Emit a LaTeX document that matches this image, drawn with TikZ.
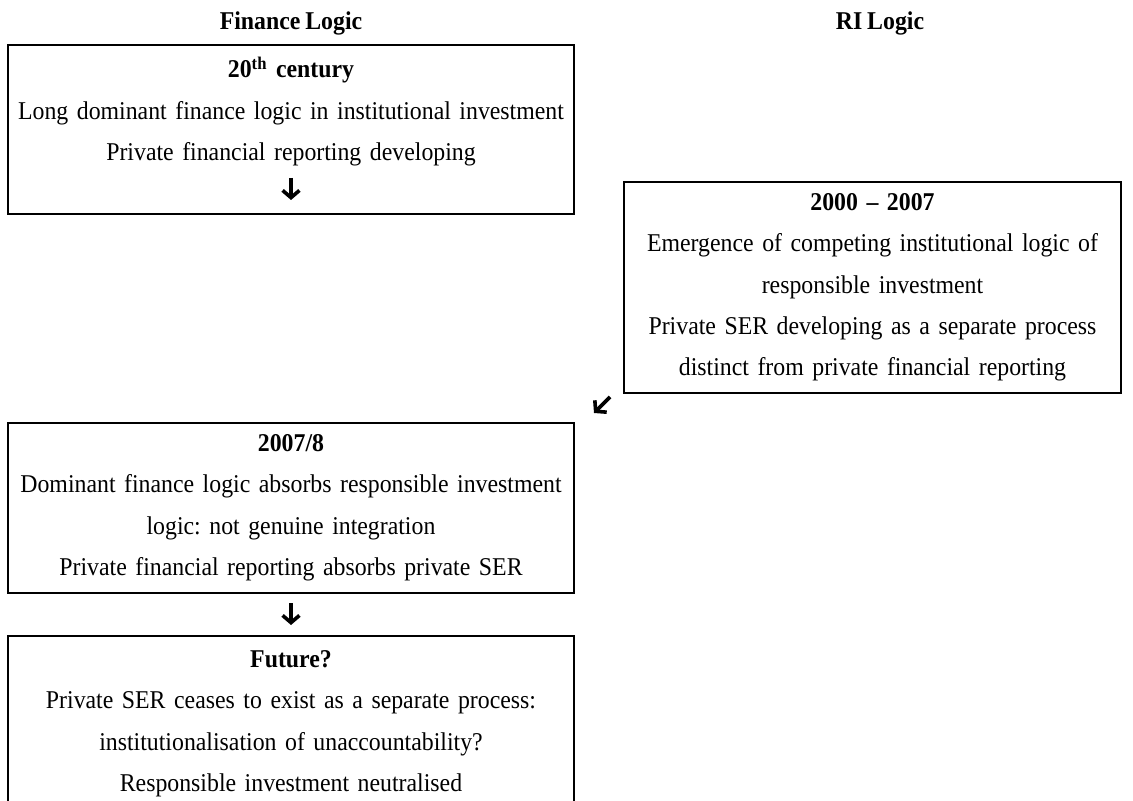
\documentclass[tikz,border=0pt]{standalone}
\usepackage{fontspec}
\setmainfont{Liberation Serif}[FakeStretch=0.93,WordSpace=0.82]
\usepackage{tikz}
\usetikzlibrary{arrows.meta,positioning}
\frenchspacing
\tikzset{
  every node/.style={font=\fontsize{12.8}{20.7}\selectfont,text=black},
  head/.style={font=\fontsize{12.8}{14}\selectfont\bfseries},
  phase/.style={draw=black,line width=0.9pt,align=center,inner xsep=4pt,inner ysep=0pt,text width=275pt,minimum width=283pt},
  riphase/.style={phase,text width=240.5pt,minimum width=248.5pt},
  flowarrow/.style={line width=1.8pt,-{Straight Barb[length=3.6pt,width=8.4pt,line width=1.8pt]}}
}

\begin{document}
\begin{tikzpicture}[x=0.5pt,y=-0.5pt]
  \useasboundingbox (0,0) rectangle (1133,801);
  \clip (0,0) rectangle (1133,801);

  % column heads
  \node[head] (finhead) at (291,23) {Finance Logic};
  \node[head] (rihead) at (880,23) {RI Logic};

  % finance logic column
  \node[phase,anchor=north,minimum height=84.5pt] (century) at (291,44)
    {\textbf{20\textsuperscript{th} century}\\Long dominant finance logic in institutional investment\\Private financial reporting developing\\\mbox{}};
  \node[phase,anchor=north,minimum height=85pt] (crisis) at (291,422)
    {\textbf{2007/8}\\Dominant finance logic absorbs responsible investment\\logic: not genuine integration\\Private financial reporting absorbs private SER};
  \node[phase,anchor=north,minimum height=88pt] (future) at (291,635)
    {\textbf{Future?}\\Private SER ceases to exist as a separate process:\\institutionalisation of unaccountability?\\Responsible investment neutralised};

  % RI logic column
  \node[riphase,anchor=north,minimum height=105.5pt] (emerge) at (872.5,181)
    {\textbf{2000 -- 2007}\\Emergence of competing institutional logic of\\responsible investment\\Private SER developing as a separate process\\distinct from private financial reporting};

  % small arrows between the phases
  \coordinate (c1from) at (291,178);
  \coordinate (c1to) at (291,200);
  \coordinate (c2from) at (610,397);
  \coordinate (c2to) at (594,413);
  \coordinate (c3from) at (291,603);
  \coordinate (c3to) at (291,625);

  \draw[flowarrow] (c1from)--(c1to);
  \draw[flowarrow] (c2from)--(c2to);
  \draw[flowarrow] (c3from)--(c3to);
\end{tikzpicture}
\end{document}
